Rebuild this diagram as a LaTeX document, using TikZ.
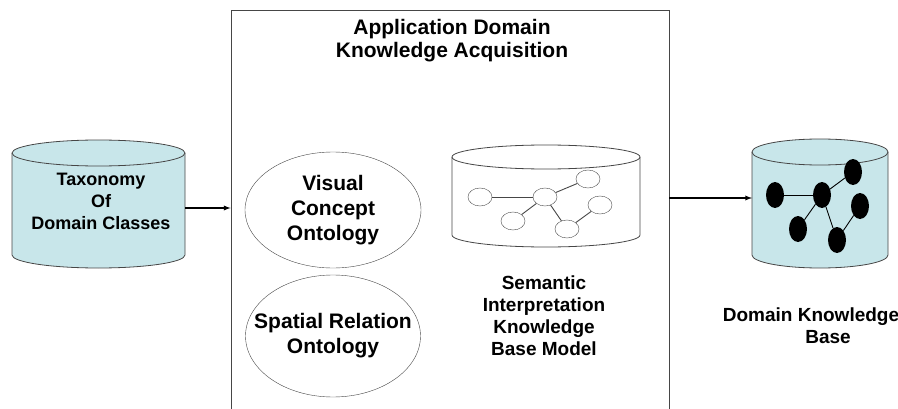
\documentclass[tikz,border=0pt]{standalone}
\usepackage{fontspec}
\setmainfont{Liberation Sans}
\usepackage{tikz}
\usetikzlibrary{arrows,shapes.geometric}

\definecolor{cylcyan}{RGB}{200,230,234}
\definecolor{linegray}{RGB}{70,70,70}

\begin{document}
\begin{tikzpicture}[x=1pt,y=1pt]
\tikzstyle{txt} = [align=center,font=\fontsize{18}{22}\selectfont\bfseries]
\tikzstyle{bigtxt} = [align=center,font=\fontsize{21}{23}\selectfont\bfseries]
\tikzstyle{midtxt} = [align=center,font=\fontsize{19}{22}\selectfont\bfseries]
\tikzstyle{onto} = [draw=linegray,ellipse,align=center,font=\fontsize{21}{25}\selectfont\bfseries,inner sep=-17pt]
\tikzstyle{wnode} = [draw=linegray,fill=white,ellipse,minimum width=24,minimum height=18,inner sep=0pt]
\tikzstyle{bnode} = [fill=black,ellipse,minimum width=18,minimum height=26,inner sep=0pt]
\tikzstyle{link} = [draw=linegray,line width=0.9pt]
\tikzstyle{flow} = [-latex,line width=1.3pt]
\useasboundingbox (0,0) rectangle (898,408);

% left cylinder
\filldraw[fill=cylcyan,draw=linegray,line width=0.8pt] (12,255) -- (12,153) arc(180:360:86.5 and 13) -- (185,255) arc(0:180:86.5 and 13) -- cycle;
\draw[draw=linegray,line width=0.8pt] (12,255) arc(180:360:86.5 and 13);
\node[txt] (tax) at (101,207) {Taxonomy\\Of\\Domain Classes};
\coordinate (taxout) at (185,200);

% acquisition box
\node[draw=linegray,line width=0.9pt,minimum width=438,minimum height=410,inner sep=0pt] (acq) at (450,193) {};
\node[bigtxt] (acqtitle) at (452,367) {Application Domain\\Knowledge Acquisition};

\node[onto,minimum width=176,minimum height=116] (visual) at (333,198) {Visual\\Concept\\Ontology};
\node[onto,minimum width=175,minimum height=122] (spatial) at (333,72) {Spatial Relation\\Ontology};

% model cylinder
\draw[draw=linegray,line width=0.8pt] (452,251) -- (452,173) arc(180:360:94 and 12) -- (640,251);
\draw[draw=linegray,line width=0.8pt] (546,251) ellipse (94 and 12);
\node[wnode] (n1) at (480,211) {};
\node[wnode] (n2) at (545,211) {};
\node[wnode] (n3) at (588,229) {};
\node[wnode] (n4) at (513,187) {};
\node[wnode] (n5) at (600,203) {};
\node[wnode] (n6) at (567,179) {};
\draw[link] (n1) -- (n2);
\draw[link] (n2) -- (n3);
\draw[link] (n2) -- (n4);
\draw[link] (n2) -- (n6);
\draw[link] (n6) -- (n5);
\node[midtxt] (model) at (544,92) {Semantic\\Interpretation\\Knowledge\\Base Model};

% right cylinder
\filldraw[fill=cylcyan,draw=linegray,line width=0.8pt] (752,256) -- (752,153) arc(180:360:68 and 13) -- (888,256) arc(0:180:68 and 13) -- cycle;
\draw[draw=linegray,line width=0.8pt] (752,256) arc(180:360:68 and 13);
\node[bnode] (b1) at (775,213) {};
\node[bnode] (b2) at (822,213) {};
\node[bnode] (b3) at (853,236) {};
\node[bnode] (b4) at (798,179) {};
\node[bnode] (b5) at (860,202) {};
\node[bnode] (b6) at (837,168) {};
\draw[link,draw=black] (b1) -- (b2);
\draw[link,draw=black] (b2) -- (b3);
\draw[link,draw=black] (b2) -- (b4);
\draw[link,draw=black] (b2) -- (b6);
\draw[link,draw=black] (b6) -- (b5);
\coordinate (kbin) at (752,210);
\node[midtxt] (kb) at (811,82) {Domain Knowledge\\\hspace*{34pt}Base};

% arrows
\draw[flow] (taxout) -- (taxout -| acq.west);
\draw[flow] (kbin -| acq.east) -- (kbin);
\end{tikzpicture}
\end{document}
